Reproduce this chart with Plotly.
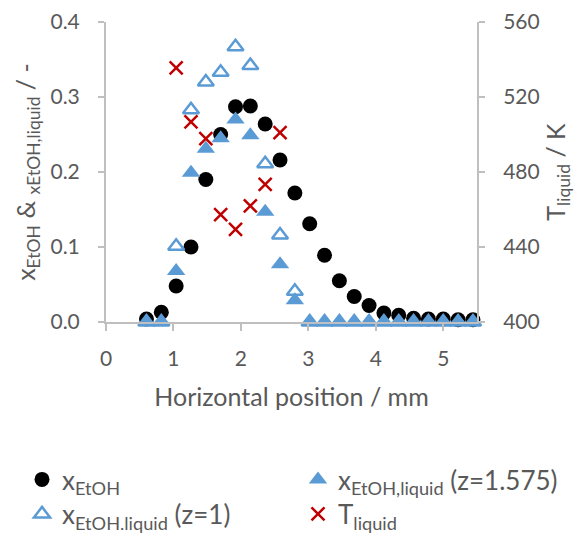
import plotly.graph_objects as go

# Horizontal positions (mm)
x_pos = [0.60, 0.82, 1.04, 1.26, 1.48, 1.70, 1.92, 2.14, 2.36, 2.58, 2.80, 3.02,
         3.24, 3.46, 3.68, 3.90, 4.12, 4.34, 4.56, 4.78, 5.00, 5.22, 5.44]

x_etoh = [0.004, 0.013, 0.048, 0.100, 0.190, 0.250, 0.287, 0.288, 0.264, 0.216, 0.172, 0.131,
          0.089, 0.055, 0.034, 0.022, 0.012, 0.009, 0.005, 0.004, 0.004, 0.003, 0.003]

x_liq_z1575 = [0.0, 0.0, 0.068, 0.199, 0.231, 0.245, 0.270, 0.249, 0.147, 0.077, 0.029, 0.0,
               0.0, 0.0, 0.0, 0.0, 0.0, 0.0, 0.0, 0.0, 0.0, 0.0, 0.0]

x_liq_z1 = [0.0, 0.0, 0.101, 0.283, 0.320, 0.333, 0.367, 0.342, 0.211, 0.116, 0.041, 0.0,
            0.0, 0.0, 0.0, 0.0, 0.0, 0.0, 0.0, 0.0, 0.0, 0.0, 0.0]

t_pos = [1.04, 1.26, 1.48, 1.70, 1.92, 2.14, 2.36, 2.58]
t_liquid = [535.5, 506.7, 497.8, 457.3, 449.4, 461.9, 473.4, 501.0]

x_ticks = [0, 1, 2, 3, 4, 5]
y_ticks = [0.0, 0.1, 0.2, 0.3, 0.4]
y2_ticks = [400, 440, 480, 520, 560]

BLUE = "#5B9BD5"
RED = "#C00000"
GRAY = "#595959"
AXIS = "#BFBFBF"
FONT = "Lato"

fig = go.Figure()
fig.add_trace(go.Scatter(x=x_pos, y=x_etoh, mode="markers", name="x<sub>EtOH</sub>",
                         marker=dict(symbol="circle", size=15, color="black"),
                         cliponaxis=False, legend="legend"))
fig.add_trace(go.Scatter(x=x_pos, y=x_liq_z1, mode="markers", name="x<sub>EtOH.liquid</sub> (z=1)",
                         marker=dict(symbol="triangle-up-open", size=14, color=BLUE,
                                     line=dict(width=2.5, color=BLUE)),
                         cliponaxis=False, legend="legend3"))
fig.add_trace(go.Scatter(x=x_pos, y=x_liq_z1575, mode="markers", name="x<sub>EtOH,liquid</sub> (z=1.575)",
                         marker=dict(symbol="triangle-up", size=16, color=BLUE),
                         cliponaxis=False, legend="legend2"))
fig.add_trace(go.Scatter(x=t_pos, y=t_liquid, mode="markers", name="T<sub>liquid</sub>", yaxis="y2",
                         marker=dict(symbol="x-thin", size=13, color=RED,
                                     line=dict(width=2.5, color=RED)),
                         cliponaxis=False, legend="legend4"))

leg_common = dict(orientation="h", yanchor="middle", xanchor="left",
                  font=dict(size=26, color=GRAY, family=FONT), bgcolor="rgba(0,0,0,0)")
c1, c2 = -0.2264, 0.5175
r1, r2 = -0.525, -0.64

fig.update_layout(
    width=584, height=534,
    margin=dict(l=106, r=107, t=22, b=212, autoexpand=False),
    plot_bgcolor="white", paper_bgcolor="white",
    font=dict(family=FONT, color=GRAY, size=21),
    showlegend=True,
    xaxis=dict(range=[0, 5.5], tickvals=x_ticks, showline=True, linecolor=AXIS, linewidth=2,
               ticks="outside", tickcolor=AXIS, ticklen=7, tickwidth=2, showgrid=False, zeroline=False,
               ticklabelstandoff=10,
               title=dict(text="Horizontal position / mm", font=dict(size=25, color=GRAY), standoff=19)),
    yaxis=dict(range=[0, 0.4], tickvals=y_ticks, tickformat=".1f", showline=True, linecolor=AXIS,
               linewidth=2, ticks="outside", tickcolor=AXIS, ticklen=6, tickwidth=2, showgrid=False,
               zeroline=False, ticklabelstandoff=14,
               title=dict(text="x<sub>EtOH</sub> & <sub>xEtOH,liquid</sub> / -",
                          font=dict(size=25, color=GRAY), standoff=8)),
    yaxis2=dict(range=[400, 560], tickvals=y2_ticks, overlaying="y", side="right", showline=True,
                linecolor=AXIS, linewidth=2, ticks="outside", tickcolor=AXIS, ticklen=6, tickwidth=2,
                showgrid=False, zeroline=False, ticklabelstandoff=14,
                title=dict(text="T<sub>liquid</sub> / K", font=dict(size=25, color=GRAY), standoff=8)),
    legend=dict(x=c1, y=r1, **leg_common),
    legend2=dict(x=c2, y=r1, **leg_common),
    legend3=dict(x=c1, y=r2, **leg_common),
    legend4=dict(x=c2, y=r2, **leg_common),
)

fig.write_html("out.html")
